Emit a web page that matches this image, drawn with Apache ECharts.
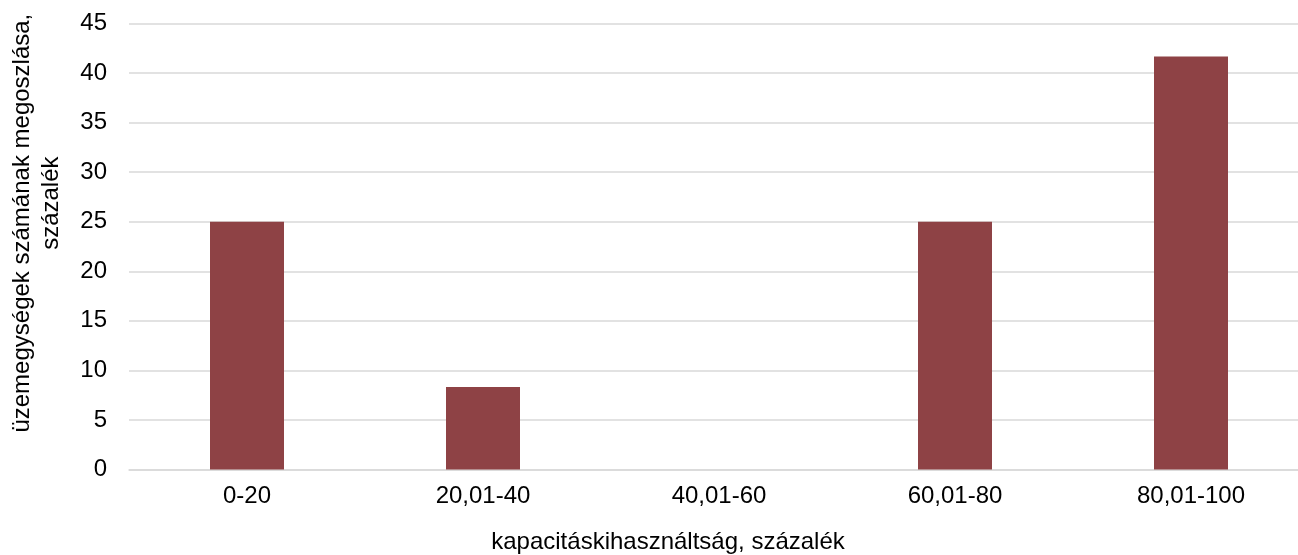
<!DOCTYPE html>
<html>
<head>
<meta charset="utf-8">
<script src="https://cdn.jsdelivr.net/npm/echarts@6/dist/echarts.min.js"></script>
<style>
  html, body { margin: 0; padding: 0; background: #fff; }
  #main { width: 1298px; height: 555px; }
</style>
</head>
<body>
<div id="main"></div>
<script>
// kapacitáskihasználtsági sávok
var categories = ['0-20', '20,01-40', '40,01-60', '60,01-80', '80,01-100'];
// üzemegységek megoszlása, %
var shares = [25, 8.33, 0, 25, 41.67];

var chartDom = document.getElementById('main');
var myChart = echarts.init(chartDom);
var option;

// Excel places the title a bit above the middle, the second line even more
var nb = '\u00a0';
var yTitle = nb.repeat(7) + 'üzemegységek számának megoszlása,' + '\n' + nb.repeat(13) + 'százalék';

option = {
    animation: false,
    textStyle: { fontFamily: 'Liberation Sans, Arial, sans-serif' },
    grid: {
        left: 129,
        right: -11,
        top: 23.5,
        bottom: 85.5,
        outerBoundsMode: 'none',
        containLabel: false
    },
    xAxis: {
        type: 'category',
        data: categories,
        name: 'kapacitáskihasználtság, százalék',
        nameLocation: 'middle',
        nameGap: 61,
        // title sits a little left of the plot centre in the original
        nameTextStyle: { fontSize: 24, color: '#000', padding: [0, 102, 0, 0] },
        axisLine: { show: true, lineStyle: { color: '#d9d9d9', width: 1.5 } },
        axisTick: { show: false },
        axisLabel: { fontSize: 24, color: '#000', margin: 15 }
    },
    yAxis: {
        type: 'value',
        min: 0,
        max: 45,
        interval: 5,
        name: yTitle,
        nameLocation: 'middle',
        nameGap: 63,
        nameTextStyle: { fontSize: 24, color: '#000', lineHeight: 29 },
        axisLine: { show: false },
        axisTick: { show: false },
        axisLabel: { fontSize: 24, color: '#000', margin: 22 },
        splitLine: { lineStyle: { color: '#d9d9d9', width: 1.5 } }
    },
    series: [
        {
            type: 'bar',
            data: shares,
            barWidth: 74,
            itemStyle: { color: '#8e4245' }
        }
    ]
};

option && myChart.setOption(option);
</script>
</body>
</html>
